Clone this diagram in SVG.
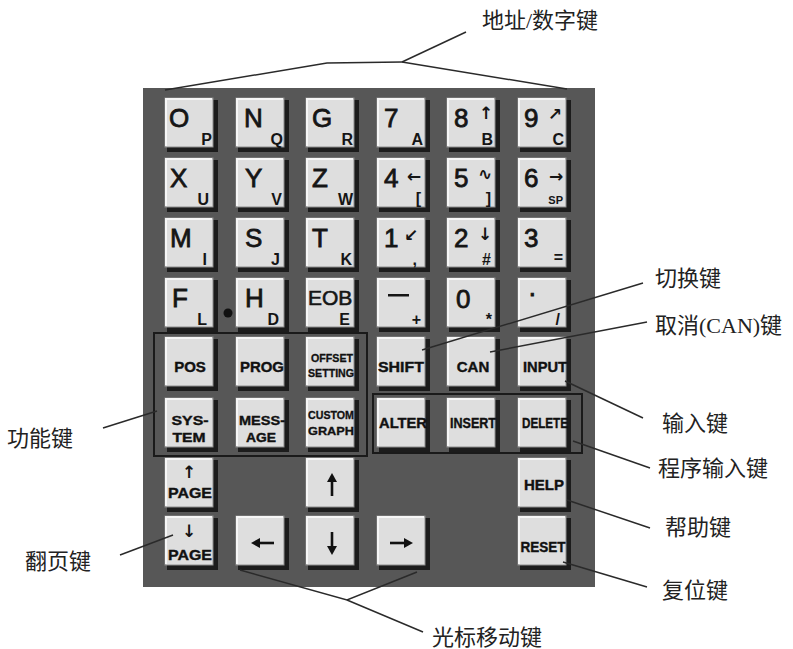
<svg xmlns="http://www.w3.org/2000/svg" xmlns:xlink="http://www.w3.org/1999/xlink" width="793" height="649" viewBox="0 0 793 649">
<style>
.main{font-family:"Liberation Sans",Arial,sans-serif;font-size:26px;fill:#151515;stroke:#151515;stroke-width:0.8}
.eob{font-family:"Liberation Sans",Arial,sans-serif;font-size:21px;fill:#151515;stroke:#151515;stroke-width:0.6}
.sub{font-family:"Liberation Sans",Arial,sans-serif;font-size:16px;font-weight:bold;fill:#151515;text-anchor:end}
.sp{font-family:"Liberation Sans",Arial,sans-serif;font-size:11px;font-weight:bold;fill:#151515;text-anchor:end}
.sym{font-family:"DejaVu Sans",sans-serif;font-size:17px;font-weight:bold;fill:#151515;text-anchor:middle}
.fn{font-family:"Liberation Sans",Arial,sans-serif;font-size:15px;font-weight:bold;fill:#111;stroke:#111;stroke-width:0.4;text-anchor:middle}
.fn2{font-family:"Liberation Sans",Arial,sans-serif;font-size:13.5px;font-weight:bold;fill:#111;stroke:#111;stroke-width:0.4;text-anchor:middle}
.fs{font-family:"Liberation Sans",Arial,sans-serif;font-size:11px;font-weight:bold;fill:#111;stroke:#111;stroke-width:0.3;text-anchor:middle}
.lbl{font-family:"Liberation Serif","Noto Sans CJK SC",serif;font-size:22px;fill:#222}
.conn line,.conn polyline{stroke:#2a2a2a;stroke-width:1.5;fill:none}
.grp{fill:none;stroke:#1a1a1a;stroke-width:2}
.arw{stroke:#111;stroke-width:2.6;fill:none}
.arh{fill:#111}
</style>
<defs>
<g id="kb">
<rect x="2" y="2" width="51" height="52" fill="#1c1c1c"/>
<rect x="0" y="0" width="48" height="49" fill="#dedede" stroke="#8c8c8c" stroke-width="1"/>
<path d="M1,48 V1 H47" stroke="#f6f6f6" stroke-width="2" fill="none"/>
</g>
<g id="arrowR"><path class="arw" d="M-11,0 H7"/><path class="arh" d="M12,0 L3,-5 L3,5 Z"/></g>
</defs>

<rect x="0" y="0" width="793" height="649" fill="#ffffff"/>
<g id="panel">
<rect x="143" y="88" width="452" height="499" fill="#575757"/>
<circle cx="228" cy="313" r="4.5" fill="#111"/>
<rect class="grp" x="154" y="333" width="213" height="123"/>
<rect class="grp" x="373" y="394" width="209" height="59"/>
</g>

<!-- Row 0 -->
<g id="key-O" transform="translate(165,98)"><use xlink:href="#kb"/><text class="main" x="4" y="29">O</text><text class="sub" x="47" y="47">P</text></g>
<g id="key-N" transform="translate(236,98)"><use xlink:href="#kb"/><text class="main" x="8" y="29">N</text><text class="sub" x="47" y="47">Q</text></g>
<g id="key-G" transform="translate(306,98)"><use xlink:href="#kb"/><text class="main" x="6" y="29">G</text><text class="sub" x="47" y="47">R</text></g>
<g id="key-7" transform="translate(377,98)"><use xlink:href="#kb"/><text class="main" x="7" y="29">7</text><text class="sub" x="46" y="47">A</text></g>
<g id="key-8" transform="translate(447,98)"><use xlink:href="#kb"/><text class="main" x="7" y="29">8</text><text class="sym" x="39" y="21">↑</text><text class="sub" x="46" y="47">B</text></g>
<g id="key-9" transform="translate(518,98)"><use xlink:href="#kb"/><text class="main" x="6" y="29">9</text><text class="sym" x="37" y="22">↗</text><text class="sub" x="46" y="47">C</text></g>

<!-- Row 1 -->
<g id="key-X" transform="translate(165,158)"><use xlink:href="#kb"/><text class="main" x="5" y="29">X</text><text class="sub" x="44" y="47">U</text></g>
<g id="key-Y" transform="translate(236,158)"><use xlink:href="#kb"/><text class="main" x="9" y="29">Y</text><text class="sub" x="46" y="47">V</text></g>
<g id="key-Z" transform="translate(306,158)"><use xlink:href="#kb"/><text class="main" x="6" y="29">Z</text><text class="sub" x="47" y="47">W</text></g>
<g id="key-4" transform="translate(377,158)"><use xlink:href="#kb"/><text class="main" x="7" y="29">4</text><text class="sym" x="37" y="24">←</text><text class="sub" x="44" y="46">[</text></g>
<g id="key-5" transform="translate(447,158)"><use xlink:href="#kb"/><text class="main" x="7" y="29">5</text><text class="sym" x="38" y="22">∿</text><text class="sub" x="44" y="46">]</text></g>
<g id="key-6" transform="translate(518,158)"><use xlink:href="#kb"/><text class="main" x="6" y="29">6</text><text class="sym" x="38" y="24">→</text><text class="sp" x="45" y="46">SP</text></g>

<!-- Row 2 -->
<g id="key-M" transform="translate(165,218)"><use xlink:href="#kb"/><text class="main" x="5" y="29">M</text><text class="sub" x="42" y="47">I</text></g>
<g id="key-S" transform="translate(236,218)"><use xlink:href="#kb"/><text class="main" x="9" y="29">S</text><text class="sub" x="44" y="47">J</text></g>
<g id="key-T" transform="translate(306,218)"><use xlink:href="#kb"/><text class="main" x="6" y="29">T</text><text class="sub" x="46" y="47">K</text></g>
<g id="key-1" transform="translate(377,218)"><use xlink:href="#kb"/><text class="main" x="7" y="29">1</text><text class="sym" x="34" y="23">↙</text><text class="sub" x="40" y="47">,</text></g>
<g id="key-2" transform="translate(447,218)"><use xlink:href="#kb"/><text class="main" x="7" y="29">2</text><text class="sym" x="38" y="22">↓</text><text class="sub" x="44" y="47">#</text></g>
<g id="key-3" transform="translate(518,218)"><use xlink:href="#kb"/><text class="main" x="6" y="29">3</text><text class="sub" x="45" y="45">=</text></g>

<!-- Row 3 -->
<g id="key-F" transform="translate(165,278)"><use xlink:href="#kb"/><text class="main" x="7" y="29">F</text><text class="sub" x="42" y="47">L</text></g>
<g id="key-H" transform="translate(236,278)"><use xlink:href="#kb"/><text class="main" x="9" y="29">H</text><text class="sub" x="43" y="47">D</text></g>
<g id="key-EOB" transform="translate(306,278)"><use xlink:href="#kb"/><text class="eob" x="2" y="27">EOB</text><text class="sub" x="44" y="47">E</text></g>
<g id="key-minus" transform="translate(377,278)"><use xlink:href="#kb"/><rect x="11" y="16" width="21" height="2.5" fill="#151515"/><text class="sub" x="44" y="47">+</text></g>
<g id="key-0" transform="translate(447,278)"><use xlink:href="#kb"/><text class="main" x="9" y="30">0</text><text class="sub" x="45" y="47">*</text></g>
<g id="key-dot" transform="translate(518,278)"><use xlink:href="#kb"/><text class="main" x="10" y="24">·</text><text class="sub" x="42" y="47">/</text></g>

<!-- Row 4 -->
<g id="key-POS" transform="translate(165,337)"><use xlink:href="#kb"/><text class="fn" x="25" y="35">POS</text></g>
<g id="key-PROG" transform="translate(236,337)"><use xlink:href="#kb"/><text class="fn" x="26" y="35" textLength="44" lengthAdjust="spacingAndGlyphs">PROG</text></g>
<g id="key-OFFSET" transform="translate(306,337)"><use xlink:href="#kb"/><text class="fs" x="26" y="25" textLength="42" lengthAdjust="spacingAndGlyphs">OFFSET</text><text class="fs" x="25" y="40" textLength="46" lengthAdjust="spacingAndGlyphs">SETTING</text></g>
<g id="key-SHIFT" transform="translate(377,337)"><use xlink:href="#kb"/><text class="fn" x="24" y="35" textLength="46" lengthAdjust="spacingAndGlyphs">SHIFT</text></g>
<g id="key-CAN" transform="translate(447,337)"><use xlink:href="#kb"/><text class="fn" x="26" y="35">CAN</text></g>
<g id="key-INPUT" transform="translate(518,337)"><use xlink:href="#kb"/><text class="fn" x="27" y="35" textLength="44" lengthAdjust="spacingAndGlyphs">INPUT</text></g>

<!-- Row 5 -->
<g id="key-SYSTEM" transform="translate(165,398)"><use xlink:href="#kb"/><text class="fn2" x="25" y="27" textLength="37" lengthAdjust="spacingAndGlyphs">SYS-</text><text class="fn2" x="24" y="44" textLength="33" lengthAdjust="spacingAndGlyphs">TEM</text></g>
<g id="key-MESSAGE" transform="translate(236,398)"><use xlink:href="#kb"/><text class="fn2" x="26" y="27" textLength="46" lengthAdjust="spacingAndGlyphs">MESS-</text><text class="fn2" x="25" y="44" textLength="30" lengthAdjust="spacingAndGlyphs">AGE</text></g>
<g id="key-CUSTOM" transform="translate(306,398)"><use xlink:href="#kb"/><text class="fs" x="25" y="21" textLength="46" lengthAdjust="spacingAndGlyphs">CUSTOM</text><text class="fs" x="25" y="37" textLength="46" lengthAdjust="spacingAndGlyphs">GRAPH</text></g>
<g id="key-ALTER" transform="translate(377,398)"><use xlink:href="#kb"/><text class="fn" x="26" y="30" textLength="48" lengthAdjust="spacingAndGlyphs">ALTER</text></g>
<g id="key-INSERT" transform="translate(447,398)"><use xlink:href="#kb"/><text class="fn" x="26" y="30" textLength="46" lengthAdjust="spacingAndGlyphs">INSERT</text></g>
<g id="key-DELETE" transform="translate(518,398)"><use xlink:href="#kb"/><text class="fn" x="27" y="30" textLength="46" lengthAdjust="spacingAndGlyphs">DELETE</text></g>

<!-- Row 6 -->
<g id="key-PAGEUP" transform="translate(165,458)"><use xlink:href="#kb"/><text class="sym" x="24" y="20">↑</text><text class="fn" x="25" y="40" textLength="44" lengthAdjust="spacingAndGlyphs">PAGE</text></g>
<g id="key-UP" transform="translate(306,458)"><use xlink:href="#kb"/><use xlink:href="#arrowR" transform="translate(26,27) rotate(-90)"/></g>
<g id="key-HELP" transform="translate(518,458)"><use xlink:href="#kb"/><text class="fn" x="26" y="32" font-size="16">HELP</text></g>

<!-- Row 7 -->
<g id="key-PAGEDOWN" transform="translate(165,516)"><use xlink:href="#kb"/><text class="sym" x="24" y="21">↓</text><text class="fn" x="25" y="44" textLength="44" lengthAdjust="spacingAndGlyphs">PAGE</text></g>
<g id="key-LEFT" transform="translate(236,516)"><use xlink:href="#kb"/><use xlink:href="#arrowR" transform="translate(27,27) rotate(180)"/></g>
<g id="key-DOWN" transform="translate(306,516)"><use xlink:href="#kb"/><use xlink:href="#arrowR" transform="translate(26,27) rotate(90)"/></g>
<g id="key-RIGHT" transform="translate(377,516)"><use xlink:href="#kb"/><use xlink:href="#arrowR" transform="translate(24,27)"/></g>
<g id="key-RESET" transform="translate(518,516)"><use xlink:href="#kb"/><text class="fn" x="25" y="36" textLength="45" lengthAdjust="spacingAndGlyphs">RESET</text></g>

<!-- Connectors -->
<g id="connectors" class="conn">
<polyline points="165,90 327,63 402,62"/>
<line x1="402" y1="62" x2="466" y2="32"/>
<line x1="402" y1="62" x2="567" y2="89"/>
<line x1="643" y1="283" x2="422" y2="350"/>
<line x1="647" y1="322" x2="490" y2="352"/>
<line x1="643" y1="418" x2="565" y2="381"/>
<line x1="650" y1="468" x2="573" y2="441"/>
<line x1="650" y1="528" x2="567" y2="500"/>
<line x1="647" y1="587" x2="563" y2="562"/>
<polyline points="240,570 347,600 417,572"/>
<line x1="347" y1="600" x2="423" y2="632"/>
<line x1="103" y1="428" x2="157" y2="411"/>
<line x1="120" y1="555" x2="173" y2="535"/>
</g>

<!-- Labels -->
<g id="labels">
<text class="lbl" x="482" y="28">地址/数字键</text>
<text class="lbl" x="655" y="286">切换键</text>
<text class="lbl" x="655" y="333">取消(CAN)键</text>
<text class="lbl" x="662" y="431">输入键</text>
<text class="lbl" x="658" y="476">程序输入键</text>
<text class="lbl" x="665" y="535">帮助键</text>
<text class="lbl" x="662" y="598">复位键</text>
<text class="lbl" x="432" y="645">光标移动键</text>
<text class="lbl" x="7" y="446">功能键</text>
<text class="lbl" x="25" y="569">翻页键</text>
</g>
</svg>
